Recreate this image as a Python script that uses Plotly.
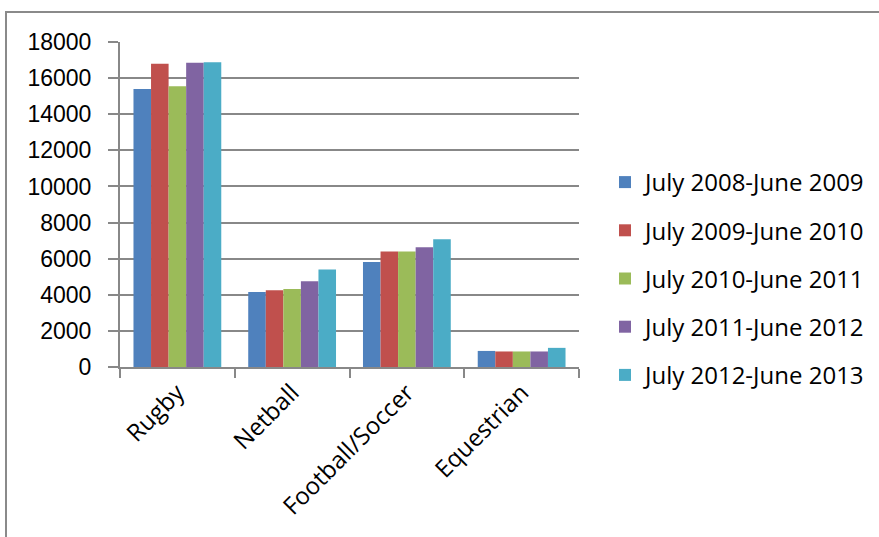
import plotly.graph_objects as go

categories = ["Rugby", "Netball", "Football/Soccer", "Equestrian"]
series_names = ["July 2008-June 2009", "July 2009-June 2010", "July 2010-June 2011",
                "July 2011-June 2012", "July 2012-June 2013"]
v_2008_09 = [15400, 4150, 5820, 890]
v_2009_10 = [16800, 4250, 6400, 860]
v_2010_11 = [15550, 4320, 6400, 860]
v_2011_12 = [16850, 4750, 6630, 860]
v_2012_13 = [16880, 5400, 7070, 1060]
series_values = [v_2008_09, v_2009_10, v_2010_11, v_2011_12, v_2012_13]
colors = ["#4F81BD", "#C0504D", "#9BBB59", "#8064A2", "#4BACC6"]
y_ticks = list(range(0, 18001, 2000))

W, H = 879, 537
L, R, T, B = 120, 300, 42, 170
pw, ph = W - L - R, H - T - B

fig = go.Figure()
for i, (name, vals) in enumerate(zip(series_names, series_values)):
    fig.add_trace(go.Bar(x=categories, y=vals, name=name, legendgroup=name,
                         marker=dict(color=colors[i], line=dict(width=0))))

grid = "#888888"
fig.update_layout(
    width=W, height=H,
    margin=dict(l=L, r=R, t=T, b=B, pad=0, autoexpand=False),
    paper_bgcolor="white", plot_bgcolor="white",
    barmode="group", bargap=0.235, bargroupgap=0,
    font=dict(family="Open Sans", color="black"),
    legend=dict(x=(605 - L) / pw, xanchor="left", y=(H - B - 278.5) / ph, yanchor="middle",
                traceorder="grouped", tracegroupgap=14,
                font=dict(family="Open Sans", size=24, color="black"),
                bgcolor="rgba(0,0,0,0)"),
    xaxis=dict(tickson="boundaries", ticks="outside", ticklen=9, tickcolor=grid, tickwidth=2,
               showline=True, linecolor=grid, linewidth=2, showgrid=False,
               tickangle=-45, tickfont=dict(family="Open Sans", size=24, color="black")),
    yaxis=dict(range=[0, 18000], tickvals=y_ticks, tickformat="d", ticks="outside", ticklen=10,
               ticklabelstandoff=12,
               tickcolor=grid, tickwidth=2, showline=True, linecolor=grid, linewidth=2,
               showgrid=True, gridcolor=grid, gridwidth=2, zeroline=False,
               tickfont=dict(family="Liberation Sans", size=23, color="black")),
)

fig.add_shape(type="rect", xref="paper", yref="paper",
              x0=(6 - L) / pw, x1=(W + 20 - L) / pw,
              y0=(H - B - (H + 20)) / ph, y1=(H - B - 12) / ph,
              line=dict(color="#8a8a8a", width=2), fillcolor="rgba(0,0,0,0)", layer="below")

fig.write_html("out.html")
